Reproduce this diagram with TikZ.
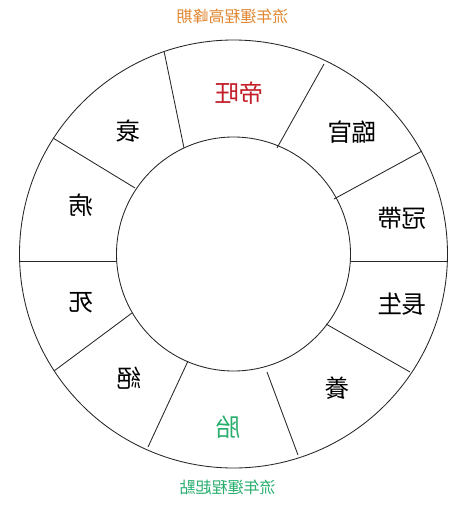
\documentclass[tikz,border=0pt]{standalone}
\usepackage{fontspec}
\usepackage{graphicx}
\newfontfamily\cjk{Noto Sans CJK TC}
\definecolor{titleorange}{RGB}{225,135,50}
\definecolor{peakred}{RGB}{195,30,40}
\definecolor{startgreen}{RGB}{40,175,110}
\begin{document}
\begin{tikzpicture}[x=1pt,y=-1pt,
  ring/.style={draw=black!85,line width=0.85pt},
  divider/.style={draw=black!85,line width=0.85pt},
  lbl/.style={font=\cjk\fontsize{24.5}{24.5}\selectfont,inner sep=0pt},
  ttl/.style={font=\cjk\fontsize{16}{16}\selectfont,inner sep=0pt}]
\useasboundingbox (0,0) rectangle (474,507);
\fill[white] (0,0) rectangle (474,507);
\coordinate (O) at (233.5,254);
\draw[ring] (O) circle[radius=214pt];
\draw[ring] (O) circle[radius=117pt];
% divider end points (outer / inner)
\coordinate (o1) at (164,51);    \coordinate (i1) at (184,148);
\coordinate (o2) at (324,64);    \coordinate (i2) at (277,148);
\coordinate (o3) at (422,151);   \coordinate (i3) at (334,199);
\coordinate (o4) at (447.5,261); \coordinate (i4) at (350.3,261);
\coordinate (o5) at (410,372);   \coordinate (i5) at (326,324);
\coordinate (o6) at (298,455);   \coordinate (i6) at (267,372);
\coordinate (o7) at (148,447);   \coordinate (i7) at (188,361);
\coordinate (o8) at (54,371);    \coordinate (i8) at (132,313);
\coordinate (o9) at (19.5,261);  \coordinate (i9) at (116.7,261);
\coordinate (o10) at (53,138);   \coordinate (i10) at (135,188);
\foreach \k in {1,...,10}{\draw[divider] (o\k) -- (i\k);}
% labels (mirrored as in the reference)
\node[lbl,text=peakred] (diwang) at (239,93) {\reflectbox{帝旺}};
\node[lbl] (linguan) at (352,132) {\reflectbox{臨官}};
\node[lbl] (guandai) at (402,218) {\reflectbox{冠帶}};
\node[lbl] (changsheng) at (402,304) {\reflectbox{長生}};
\node[lbl] (yang) at (337,388) {\reflectbox{養}};
\node[lbl,text=startgreen] (tai) at (228,427) {\reflectbox{胎}};
\node[lbl] (jue) at (129,378) {\reflectbox{絕}};
\node[lbl] (si) at (81,303) {\reflectbox{死}};
\node[lbl] (bing) at (81,205) {\reflectbox{病}};
\node[lbl] (shuai) at (128,131) {\reflectbox{衰}};
\node[ttl,text=titleorange] (peak) at (232.5,16) {\reflectbox{流年運程高峰期}};
\node[ttl,text=startgreen] (start) at (227.5,487) {\reflectbox{流年運程起點}};
\end{tikzpicture}
\end{document}
